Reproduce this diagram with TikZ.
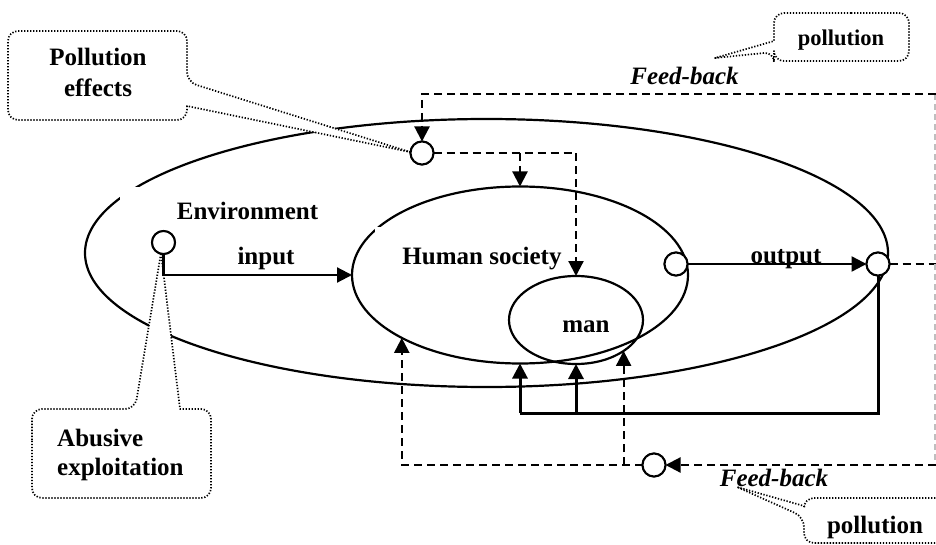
\documentclass[tikz,border=0pt]{standalone}
\usepackage{fontspec}
\setmainfont{Liberation Serif}
\usetikzlibrary{arrows.meta,shapes.geometric}
\begin{document}
\begin{tikzpicture}[x=1pt,y=-1pt,
  lbl/.style={font=\bfseries\fontsize{25}{30}\selectfont, inner sep=0pt},
  fbtxt/.style={font=\bfseries\itshape\fontsize{25}{30}\selectfont, inner sep=0pt},
  region/.style={draw, ellipse, line width=2.2pt, inner sep=0pt, outer sep=0pt},
  port/.style={draw, circle, fill=white, line width=2pt, minimum size=23pt, inner sep=0pt, outer sep=0pt},
  tip/.style={-{Triangle[length=15pt,width=15pt]}},
  flow/.style={line width=2.2pt},
  loopline/.style={line width=3pt},
  fb/.style={line width=2.2pt, dash pattern=on 8pt off 5pt},
  callout/.style={draw, fill=white, line width=1.7pt, dash pattern=on 1.3pt off 1.7pt, line join=round},
]
\useasboundingbox (0,0) rectangle (936,545);

% nested systems
\node[region, minimum width=803pt, minimum height=268pt] (env) at (486.5,253) {};
\node[region, minimum width=336pt, minimum height=177pt] (hs) at (520,275) {};
\node[region, minimum width=134pt, minimum height=88pt] (man) at (576,320) {};

% white text frames interrupting the outlines
\fill[white] (120,187) rectangle (330,228);
\fill[white] (375,227) rectangle (566,247);

% callouts
\draw[callout] (97,31) [rounded corners=10pt] -- (187,31) -- (187,82) [sharp corners] -- (410,152)
  -- (187,106) [rounded corners=10pt] -- (187,120) -- (8,120) -- (8,31) -- cycle;
\draw[callout] (32,450) [rounded corners=10pt] -- (32,409) -- (135,409) [sharp corners] -- (161,253)
  -- (180,409) [rounded corners=10pt] -- (211,409) -- (211,498) -- (32,498) -- cycle;
\draw[callout] (841,13) [rounded corners=10pt] -- (909,13) -- (909,61) -- (774,61) -- (774,52)
  [sharp corners] -- (715,58) -- (774,41) [rounded corners=10pt] -- (774,13) -- cycle;
\draw[callout] (880,543) [rounded corners=10pt] -- (804,543) -- (804,517) [sharp corners] -- (737,487)
  -- (804,506) [rounded corners=10pt] -- (804,498) -- (960,498) -- (960,543) -- cycle;

% labels
\node[lbl, anchor=base] (tenv) at (247.5,220) {Environment};
\node[lbl, anchor=base] (tin) at (266,265) {input};
\node[lbl, anchor=base] (ths) at (482,264) {Human society};
\node[lbl, anchor=base] (tman) at (586,332) {man};
\node[lbl, anchor=base] (tout) at (786,263) {output};
\node[fbtxt, anchor=base] (tfb1) at (684.5,85) {Feed-back};
\node[fbtxt, anchor=base] (tfb2) at (774,486) {Feed-back};
\node[lbl, anchor=base, align=center, font=\bfseries\fontsize{25}{31}\selectfont] (tpe) at (98,97) {Pollution\\effects};
\node[lbl, anchor=base west, align=left, font=\bfseries\fontsize{25}{29}\selectfont] (tab) at (57,475) {Abusive\\exploitation};
\node[lbl, anchor=base, font=\bfseries\fontsize{22.5}{26}\selectfont] (tp1) at (841,46) {pollution};
\node[lbl, anchor=base] (tp2) at (875,533) {pollution};

% ports
\node[port] (pec) at (422,153) {};
\node[port] (envc) at (163.5,242.5) {};
\node[port] (hsc) at (676,264) {};
\node[port] (outc) at (878,264) {};
\node[port] (fbc) at (654,465) {};

% corner points of the loops
\coordinate (j1) at (520,413);
\coordinate (j2) at (576,413);
\coordinate (rt) at (936,94);
\coordinate (rm) at (936,264);
\coordinate (rb) at (936,465);

% material flows
\draw[flow,tip] (envc.south) |- (hs.west);
\draw[flow,line width=2.5pt,tip] (hsc.east) -- (outc.west);
\draw[loopline] (outc.south) |- (j1);
\draw[loopline,tip] (j1) -- (hs.south);
\draw[loopline,tip] (j2) -- (man.south);

% feed-back loops
\draw[fb] (outc.east) -- (rm);
\draw[gray!50, line width=1.2pt, dash pattern=on 6pt off 4pt] ([xshift=-1pt]rt) -- ([xshift=-1pt]rb);
\draw[fb,tip] (rt) -| (pec.north);
\draw[fb,tip] (pec.east) -| (man.north);
\draw[fb,tip] (pec.east -| hs.north) -- (hs.north);
\draw[fb,tip] (rb) -- (fbc.east);
\draw[fb,tip] (fbc.west) -| (hs.208);
\draw[fb,tip] (fbc.west -| man.327) -- (man.327);

% redraw ports on top of the lines
\node[port] at (pec) {};
\node[port] at (envc) {};
\node[port] at (hsc) {};
\node[port] at (outc) {};
\node[port] at (fbc) {};
\end{tikzpicture}
\end{document}
